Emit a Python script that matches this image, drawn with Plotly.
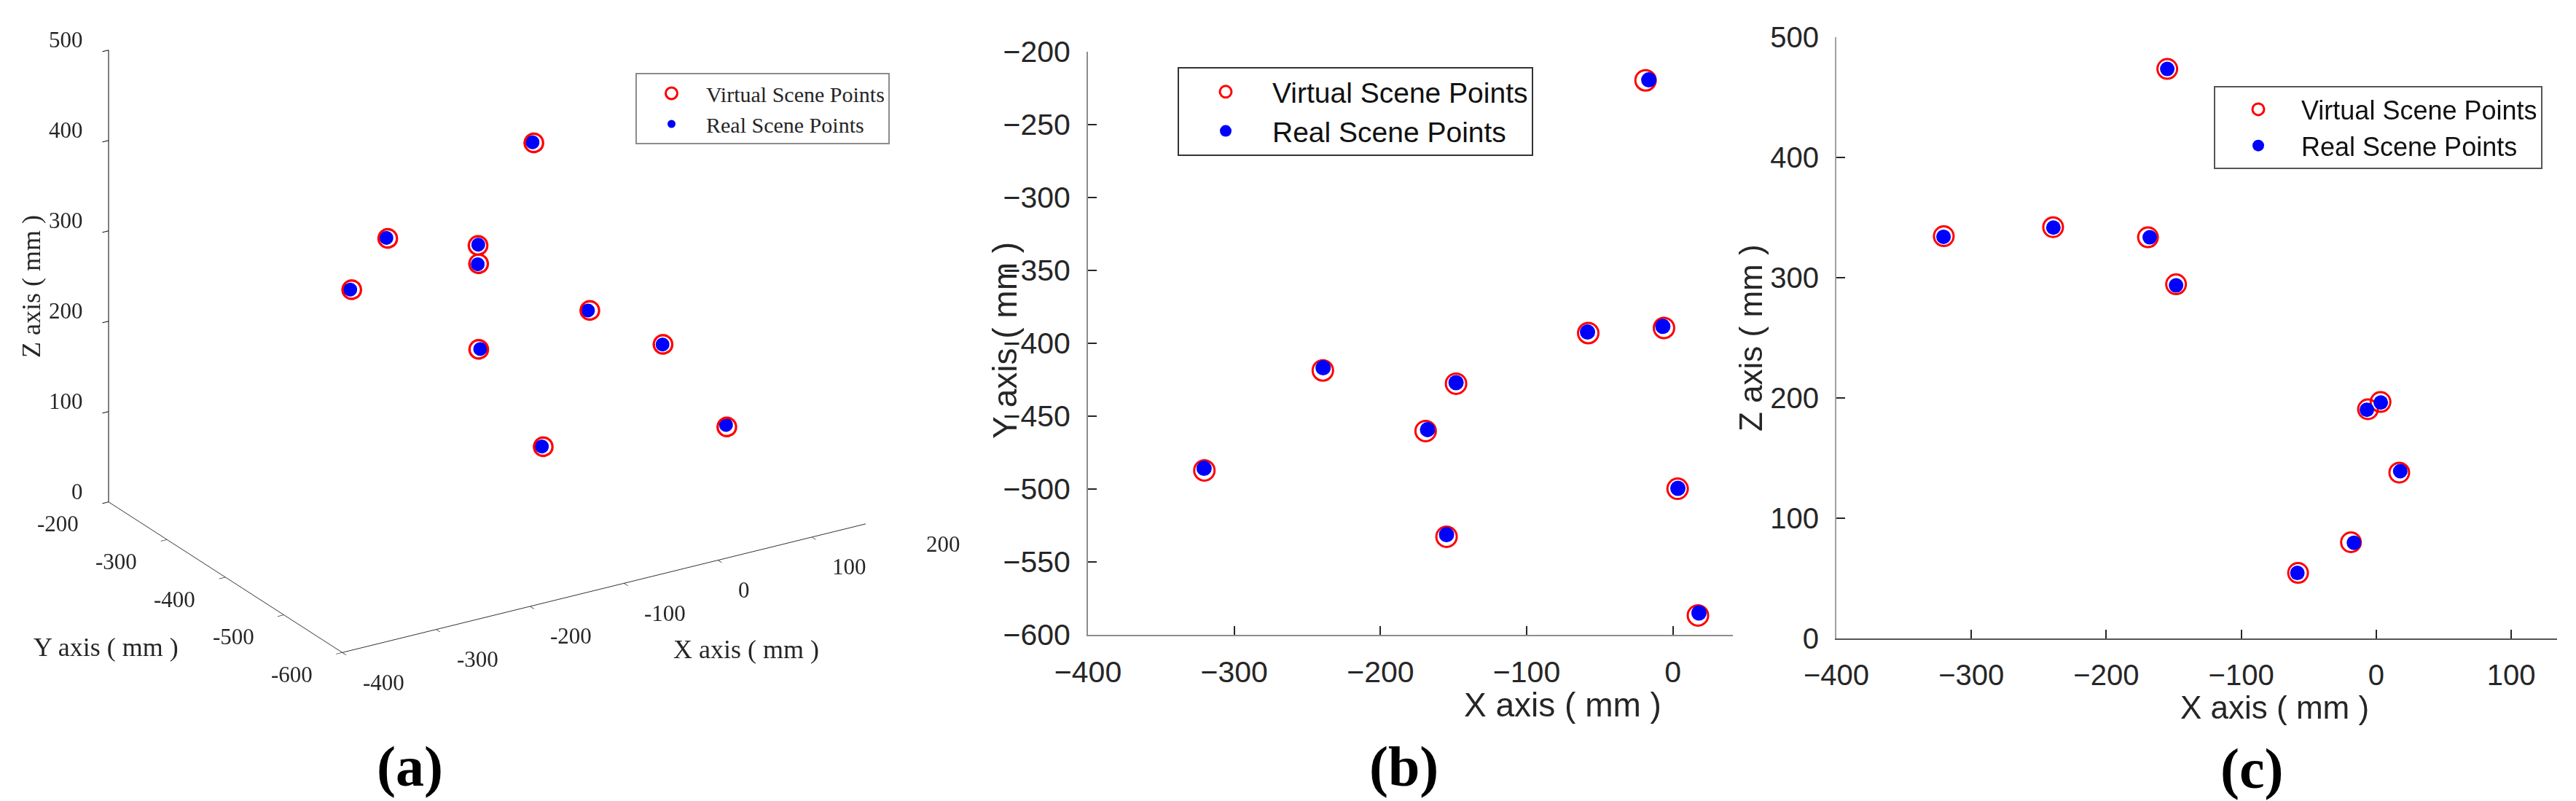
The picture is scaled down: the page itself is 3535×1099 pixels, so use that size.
import plotly.graph_objects as go

W, H = 3535, 1099

# ---- data (mm) ----
x_real = [-320.6, -239.2, -148.3, -167.8, -154.8, -58.4, -6.9, -16.5, 3.4, 17.8]
y_real = [-485.8, -416.8, -427.0, -459.2, -531.3, -392.3, -388.4, -219.3, -499.5, -585.0]
z_real = [334.0, 341.7, 293.6, 333.6, 473.6, 54.5, 190.2, 79.6, 196.2, 139.1]

x_virt = [-320.4, -239.4, -148.3, -169.1, -154.8, -57.9, -6.1, -18.7, 3.2, 17.1]
y_virt = [-487.2, -418.6, -427.7, -460.2, -532.7, -393.0, -389.5, -219.6, -499.8, -586.7]
z_virt = [334.5, 342.0, 294.5, 333.6, 473.6, 54.5, 190.6, 80.0, 196.6, 137.9]

x_ticks = [-400, -300, -200, -100, 0, 100, 200]
y_ticks_3d = [-600, -500, -400, -300, -200]
z_ticks = [0, 100, 200, 300, 400, 500]
y_ticks_b = [-600, -550, -500, -450, -400, -350, -300, -250, -200]
x_ticks_b = [-400, -300, -200, -100, 0]
x_ticks_c = [-400, -300, -200, -100, 0, 100]

names = ["Virtual Scene Points", "Real Scene Points"]
RED = "#ff0000"
BLUE = "#0000ff"
TXT = "#262626"
SERIF = "Liberation Serif"
SANS = "Liberation Sans"

def px(xp):
    return xp / W

def py(yp):
    return 1 - yp / H

fig = go.Figure()

# ---- (a) 3-D ----
fig.add_trace(go.Scatter3d(x=x_virt, y=y_virt, z=z_virt, mode="markers", name=names[0],
                           marker=dict(symbol="circle-open", size=16, color=RED,
                                       line=dict(color=RED, width=3)),
                           legend="legend"))
fig.add_trace(go.Scatter3d(x=x_real, y=y_real, z=z_real, mode="markers", name=names[1],
                           marker=dict(symbol="circle", size=11, color=BLUE),
                           legend="legend"))

# ---- (b) X-Y ----
fig.add_trace(go.Scatter(x=x_virt, y=y_virt, mode="markers", name=names[0],
                         marker=dict(symbol="circle-open", size=28, color=RED,
                                     line=dict(color=RED, width=3)),
                         xaxis="x", yaxis="y", legend="legend2", cliponaxis=False))
fig.add_trace(go.Scatter(x=x_real, y=y_real, mode="markers", name=names[1],
                         marker=dict(symbol="circle", size=21, color=BLUE),
                         xaxis="x", yaxis="y", legend="legend2", cliponaxis=False))

# ---- (c) X-Z ----
fig.add_trace(go.Scatter(x=x_virt, y=z_virt, mode="markers", name=names[0],
                         marker=dict(symbol="circle-open", size=27, color=RED,
                                     line=dict(color=RED, width=3)),
                         xaxis="x2", yaxis="y2", legend="legend3", cliponaxis=False))
fig.add_trace(go.Scatter(x=x_real, y=z_real, mode="markers", name=names[1],
                         marker=dict(symbol="circle", size=20, color=BLUE),
                         xaxis="x2", yaxis="y2", legend="legend3", cliponaxis=False))

ax3 = dict(showbackground=False, showgrid=False, zeroline=False, showline=True,
           linecolor="#333333", linewidth=2, ticks="outside", ticklen=10, tickwidth=2,
           tickcolor="#333333", showticklabels=False,
           title=dict(text=""), showspikes=False)

ax2 = dict(showgrid=False, zeroline=False, showline=True, linecolor="#8c8c8c", linewidth=2,
           ticks="inside", ticklen=12, tickwidth=2, tickcolor=TXT, automargin=False,
           tickfont=dict(family=SANS, size=41, color=TXT))

# tick labels of the 3-D axes, placed at the tick positions in data space
tfont = dict(family=SERIF, size=31, color=TXT)
scene_ann = []
for v in x_ticks:
    scene_ann.append(dict(x=v, y=y_ticks_3d[0], z=z_ticks[0], text=str(v), showarrow=False,
                          xanchor="left", yanchor="middle", xshift=26, yshift=-41, font=tfont))
for v in y_ticks_3d:
    scene_ann.append(dict(x=x_ticks[0], y=v, z=z_ticks[0], text=str(v), showarrow=False,
                          xanchor="right", yanchor="middle", xshift=-39, yshift=-30, font=tfont))
for v in z_ticks:
    scene_ann.append(dict(x=x_ticks[0], y=y_ticks_3d[-1], z=v, text=str(v), showarrow=False,
                          xanchor="right", yanchor="middle", xshift=-33, yshift=14, font=tfont))

fig.update_layout(
    template="none",
    width=W, height=H, autosize=False,
    margin=dict(l=0, r=0, t=0, b=0, pad=0, autoexpand=False),
    paper_bgcolor="white", plot_bgcolor="white",
    showlegend=True,
    scene=dict(
        domain=dict(x=[0, px(1180)], y=[0, 1]),
        bgcolor="rgba(0,0,0,0)",
        xaxis=dict(ax3, range=[-400, 200], tickvals=x_ticks),
        yaxis=dict(ax3, range=[-600, -200], tickvals=y_ticks_3d),
        zaxis=dict(ax3, range=[0, 500], tickvals=z_ticks, linecolor="#000000",
                   tickcolor="#000000"),
        aspectmode="manual",
        aspectratio=dict(x=1.6540, y=1.1106, z=1.2298),
        camera=dict(eye=dict(x=-1.66287, y=-2.35300, z=0.90892),
                    center=dict(x=-0.21660, y=-0.01132, z=-0.28466),
                    up=dict(x=0, y=0, z=1),
                    projection=dict(type="orthographic")),
        annotations=scene_ann,
    ),
    xaxis=dict(ax2, domain=[px(1485), px(2370)], range=[-400, 41], tickvals=x_ticks_b,
               anchor="y", ticklabelstandoff=14),
    yaxis=dict(ax2, domain=[py(863), py(63)], range=[-600, -200], tickvals=y_ticks_b,
               anchor="x", ticklabelstandoff=14),
    xaxis2=dict(ax2, domain=[px(2512), px(3501)], range=[-400, 134], tickvals=x_ticks_c,
                anchor="y2", ticklabelstandoff=14, linecolor="#555555",
                tickfont=dict(family=SANS, size=40, color=TXT)),
    yaxis2=dict(ax2, domain=[py(868), py(43)], range=[0, 500], tickvals=z_ticks,
                anchor="x2", ticklabelstandoff=14, linecolor="#a0a0a0",
                tickfont=dict(family=SANS, size=40, color=TXT)),
    legend=dict(x=px(864), y=py(92), xanchor="left", yanchor="top",
                font=dict(family=SERIF, size=30, color=TXT), bordercolor="#8c8c8c",
                borderwidth=2, itemwidth=85, bgcolor="white"),
    legend2=dict(x=px(1608), y=py(84), xanchor="left", yanchor="top",
                 font=dict(family=SANS, size=39, color="#111111"), bordercolor="#333333",
                 borderwidth=2, itemwidth=118, bgcolor="white"),
    legend3=dict(x=px(3030), y=py(110), xanchor="left", yanchor="top",
                 font=dict(family=SANS, size=36, color="#111111"), bordercolor="#555555",
                 borderwidth=2, itemwidth=108, bgcolor="white"),
)

ann = []
def add_text(t, xp, yp, fam, size, angle=0, bold=False):
    ann.append(dict(text=f"<b>{t}</b>" if bold else t, x=px(xp), y=py(yp), xref="paper", yref="paper",
                    xanchor="center", yanchor="middle", showarrow=False, textangle=angle,
                    font=dict(family=fam, size=size, color="#000000" if bold else TXT)))

add_text("Z axis ( mm )", 35, 385, SERIF, 36, angle=-90)
add_text("Y axis ( mm )", 137, 880, SERIF, 36)
add_text("X axis ( mm )", 1016, 883, SERIF, 36)
add_text("X axis ( mm )", 2136, 959, SANS, 46)
add_text("Y axis ( mm )", 1371, 459, SANS, 46, angle=-90)
add_text("X axis ( mm )", 3113, 962, SANS, 44)
add_text("Z axis ( mm )", 2395, 456, SANS, 44, angle=-90)
add_text("(a)", 554, 1043, SERIF, 78, bold=True)
add_text("(b)", 1918, 1043, SERIF, 78, bold=True)
add_text("(c)", 3082, 1046, SERIF, 78, bold=True)
fig.update_layout(annotations=ann)

fig.write_html("out.html", config=dict(displayModeBar=False))
